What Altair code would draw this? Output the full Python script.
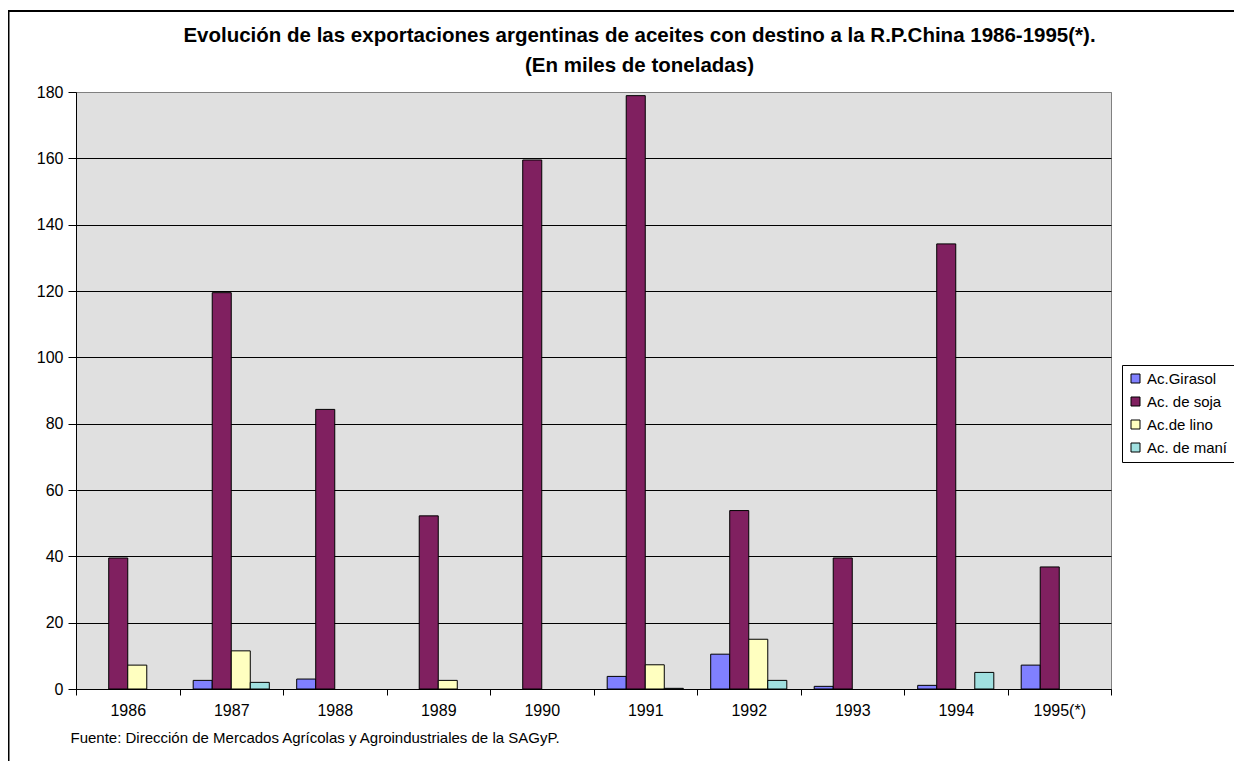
import altair as alt
import pandas as pd

years = ["1986", "1987", "1988", "1989", "1990", "1991", "1992", "1993", "1994", "1995(*)"]
series = ["Ac.Girasol", "Ac. de soja", "Ac.de lino", "Ac. de maní"]
girasol = [0, 2.6, 3.0, 0, 0, 3.8, 10.5, 0.8, 1.1, 7.2]
soja = [39.5, 119.5, 84.3, 52.2, 159.5, 178.9, 53.8, 39.5, 134.2, 36.8]
lino = [7.2, 11.5, 0, 2.6, 0, 7.3, 15.0, 0, 0, 0]
mani = [0, 2.0, 0, 0, 0, 0.2, 2.6, 0, 5.0, 0]
colors = ["#8080FF", "#802060", "#FFFFC0", "#A0E0E0"]
y_ticks = [0, 20, 40, 60, 80, 100, 120, 140, 160, 180]

title_lines = [
    "Evolución de las exportaciones argentinas de aceites con destino a la R.P.China 1986-1995(*).",
    "(En miles de toneladas)",
]
source = "Fuente: Dirección de Mercados Agrícolas y Agroindustriales de la SAGyP."

rows = []
for s, vals in zip(series, [girasol, soja, lino, mani]):
    for yr, v in zip(years, vals):
        rows.append({"year": yr, "serie": s, "value": v})
df = pd.DataFrame(rows)

FONT = "Liberation Sans"

bars = (
    alt.Chart(df)
    .transform_filter("datum.value > 0")
    .mark_bar(stroke="black", strokeWidth=1)
    .encode(
        x=alt.X(
            "year:N",
            sort=years,
            scale=alt.Scale(domain=years, paddingInner=0, paddingOuter=0),
            axis=alt.Axis(
                title=source,
                titleFont=FONT,
                titleFontSize=15,
                titleFontWeight="normal",
                titleColor="black",
                titleAnchor="start",
                titleAlign="left",
                titleBaseline="alphabetic",
                titleX=-6,
                titleY=53,
                labelAngle=0,
                labelFont=FONT,
                labelFontSize=16,
                labelColor="black",
                labelPadding=7,
                tickBand="extent",
                tickSize=6,
                tickColor="black",
                domainColor="black",
                grid=False,
            ),
        ),
        xOffset=alt.XOffset(
            "serie:N",
            sort=series,
            scale=alt.Scale(domain=series, paddingOuter=0.72, paddingInner=0),
        ),
        y=alt.Y(
            "value:Q",
            scale=alt.Scale(domain=[0, 180], nice=False),
            axis=alt.Axis(
                values=y_ticks,
                title=None,
                grid=True,
                gridColor={"condition": {"test": "datum.value === 180", "value": "#808080"}, "value": "black"},
                gridOpacity=1,
                gridWidth=1,
                labelFont=FONT,
                labelFontSize=16,
                labelColor="black",
                labelPadding=5,
                tickSize=8,
                tickColor="black",
                domainColor="black",
            ),
        ),
        color=alt.Color(
            "serie:N",
            sort=series,
            scale=alt.Scale(domain=series, range=colors),
            legend=alt.Legend(
                title=None,
                orient="none",
                legendX=1046,
                legendY=273,
                fillColor="white",
                strokeColor="black",
                padding=6,
                symbolType="square",
                symbolSize=81,
                symbolStrokeColor="black",
                symbolStrokeWidth=1,
                labelFont=FONT,
                labelFontSize=15,
                labelColor="black",
                labelOffset=4,
                rowPadding=7,
            ),
        ),
    )
)

frame_df = pd.DataFrame({"a": [0]})
left_border = alt.Chart(frame_df).mark_rule(color="black", strokeWidth=2).encode(
    x=alt.value(-67.5), y=alt.value(-81), y2=alt.value(700)
)
top_border = alt.Chart(frame_df).mark_rule(color="black", strokeWidth=2).encode(
    x=alt.value(-68.5), x2=alt.value(1200), y=alt.value(-81)
)

chart = (
    alt.layer(bars, left_border, top_border)
    .properties(
        width=1035,
        height=597,
        background="white",
        autosize=alt.AutoSizeParams(type="none"),
        padding={"left": 68, "top": 84, "right": 123, "bottom": 72},
        title=alt.TitleParams(
            text=title_lines,
            font=FONT,
            fontSize=20.5,
            fontWeight="bold",
            color="black",
            anchor="middle",
            dx=46,
            dy=84,
            offset=18,
            lineHeight=30,
        ),
    )
    .configure_view(fill="#E0E0E0", stroke="#808080", strokeWidth=1)
)

chart.save("out.html", embed_options={"renderer": "svg", "actions": False})
